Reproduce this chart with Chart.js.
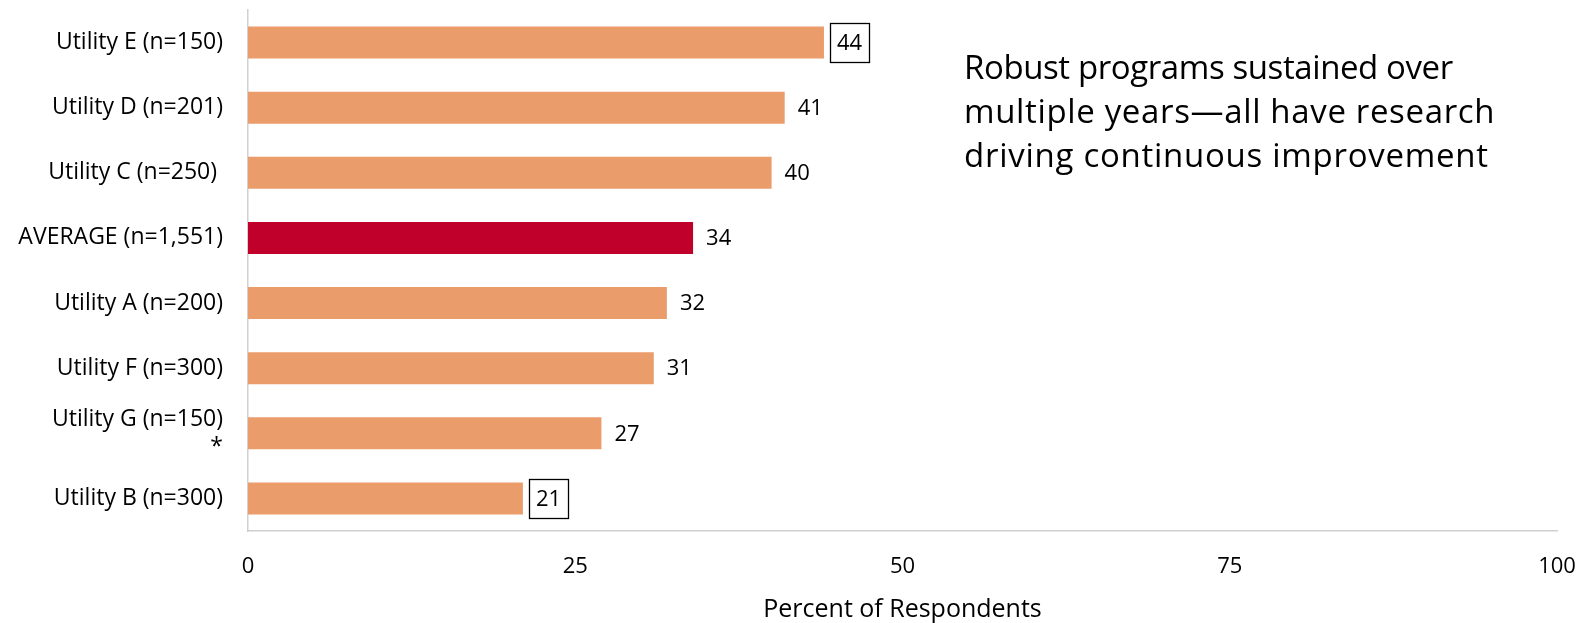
<!DOCTYPE html>
<html><head><meta charset="utf-8">
<script src="https://cdn.jsdelivr.net/npm/chart.js@4"></script>
<style>
html,body{margin:0;padding:0;background:#fff;}
#wrap{position:relative;width:1589px;height:623px;}
#note{position:absolute;left:964px;top:45px;font-family:'Open Sans';font-size:33px;line-height:44px;color:#000;white-space:nowrap;}
#note span{display:block;}
</style></head><body>
<div id="wrap"><canvas id="c" width="1589" height="623"></canvas>
<div id="note"><span style="letter-spacing:-0.4px">Robust programs sustained over</span><span style="letter-spacing:0.65px">multiple years—all have research</span><span style="letter-spacing:0.73px">driving continuous improvement</span></div></div>
<script>
const categories = ['Utility E (n=150)', 'Utility D (n=201)', 'Utility C (n=250) ', 'AVERAGE (n=1,551)', 'Utility A (n=200)', 'Utility F (n=300)', ['Utility G (n=150)', '*'], 'Utility B (n=300)'];
const percentValues = [44, 41, 40, 34, 32, 31, 27, 21];
const boxedCategories = ['Utility E (n=150)', 'Utility B (n=300)'];
const averageCategory = 'AVERAGE (n=1,551)';
const xTickValues = [0, 25, 50, 75, 100];
const axisTitle = 'Percent of Respondents';

const ORANGE = '#EB9C6B', RED = '#C0002A', AXIS = '#D0D0D0';
const FONT = "'Open Sans'";

const labelPlugin = {
  id: 'valueLabels',
  afterDatasetsDraw(chart) {
    const ctx = chart.ctx;
    const meta = chart.getDatasetMeta(0);
    ctx.save();
    ctx.font = '22px ' + FONT;
    ctx.fillStyle = '#000';
    ctx.textAlign = 'left';
    ctx.textBaseline = 'middle';
    meta.data.forEach((el, i) => {
      const txt = String(percentValues[i]);
      const x = el.x + 13, y = el.y;
      ctx.fillText(txt, x, y + 1);
      const cat = categories[i];
      if (boxedCategories.includes(cat)) {
        const w = ctx.measureText(txt).width;
        ctx.strokeStyle = '#000';
        ctx.lineWidth = 1.3;
        ctx.strokeRect(Math.round(x - 7) + 0.5, Math.round(y - 19.5) + 0.5, Math.round(w + 14), 39);
      }
    });
    ctx.restore();
  }
};

new Chart(document.getElementById('c'), {
  type: 'bar',
  data: {
    labels: categories,
    datasets: [{
      data: percentValues,
      backgroundColor: categories.map(c => c === averageCategory ? RED : ORANGE),
      borderWidth: 0,
      barPercentage: 0.49,
      categoryPercentage: 1
    }]
  },
  options: {
    indexAxis: 'y',
    responsive: false,
    animation: false,
    layout: { padding: { top: 10, right: 32, bottom: 0, left: 0 } },
    plugins: { legend: { display: false }, tooltip: { enabled: false } },
    scales: {
      y: {
        grid: { display: false, drawTicks: false },
        border: { display: true, color: AXIS, width: 1.5 },
        ticks: { color: '#000', font: { family: FONT, size: 23 }, padding: 25, autoSkip: false },
        afterFit(s) { s.width = 248; s.paddingTop = 0; s.paddingBottom = 0; }
      },
      x: {
        min: 0, max: 100,
        afterBuildTicks(s) { s.ticks = xTickValues.map(v => ({ value: v })); },
        grid: { display: false, drawTicks: false },
        border: { display: true, color: AXIS, width: 1.5 },
        ticks: { color: '#000', font: { family: FONT, size: 22 }, padding: 23 },
        title: { display: true, text: axisTitle, color: '#000', font: { family: FONT, size: 25 }, padding: { top: 0, bottom: -2 } },
        afterFit(s) { s.height = 92; s.paddingLeft = 0; s.paddingRight = 0; }
      }
    }
  },
  plugins: [labelPlugin]
});
</script>
</body></html>
